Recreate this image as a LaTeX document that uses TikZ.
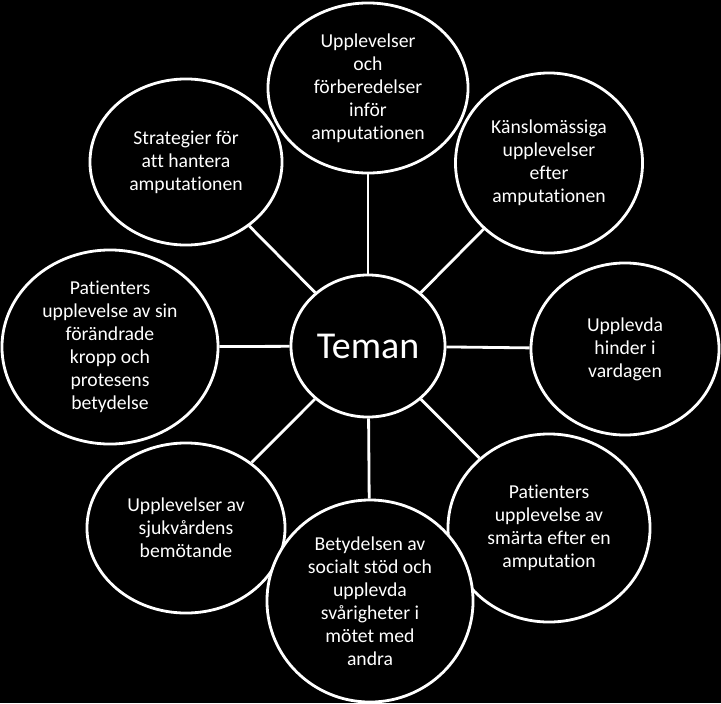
\documentclass[tikz,border=0pt]{standalone}
\usepackage{fontspec}
\setmainfont{Carlito}[Ligatures=NoCommon]
\usetikzlibrary{shapes.geometric}

\begin{document}
\begin{tikzpicture}[
  x=0.025cm, y=-0.025cm,
  every node/.style={ellipse, draw=white, line width=2pt, fill=black, text=white, align=center, inner sep=0pt, font=\fontsize{14}{16.4}\selectfont},
  hub/.style={minimum width=3.85cm, minimum height=3.55cm, font=\fontsize{27}{32}\selectfont},
  link/.style={draw=white, line width=2pt}
]
\useasboundingbox (0,0) rectangle (721,703);
\fill[black] (0,0) rectangle (721,703);

\node[hub] (teman) at (368,346) {Teman};

% outer themes
\node[minimum width=5cm, minimum height=4.25cm]    (infor)    at (368,88)  {Upplevelser\\och\\förberedelser\\inför\\amputationen};
\node[minimum width=4.675cm, minimum height=4.5cm] (kansla)   at (549,163) {Känslomässiga\\upplevelser\\efter\\amputationen};
\node[minimum width=4.7cm, minimum height=4.3cm]   (hinder)   at (625,349) {Upplevda\\hinder i\\vardagen};
\node[minimum width=5.05cm, minimum height=4.7cm]  (smarta)   at (549,528) {Patienters\\upplevelse av\\smärta efter en\\amputation};
\node[minimum width=4.95cm, minimum height=4.25cm] (vard)     at (186,528) {Upplevelser av\\sjukvårdens\\bemötande};
\node[minimum width=5.4cm, minimum height=4.85cm]  (kropp)    at (110,347) {Patienters\\upplevelse av sin\\förändrade\\kropp och\\protesens\\betydelse};
\node[minimum width=4.8cm, minimum height=4.15cm]  (strategi) at (186,162) {Strategier för\\att hantera\\amputationen};
\node[minimum width=5.15cm, minimum height=5.05cm] (stod)     at (370,601) {Betydelsen av\\socialt stöd och\\upplevda\\svårigheter i\\mötet med\\andra};

\draw[link] (teman) -- (infor);
\draw[link] (teman) -- (kansla);
\draw[link] (teman) -- (hinder);
\draw[link] (teman) -- (smarta);
\draw[link] (teman) -- (stod);
\draw[link] (teman) -- (vard);
\draw[link] (teman) -- (kropp);
\draw[link] (teman) -- (strategi);
\end{tikzpicture}
\end{document}
